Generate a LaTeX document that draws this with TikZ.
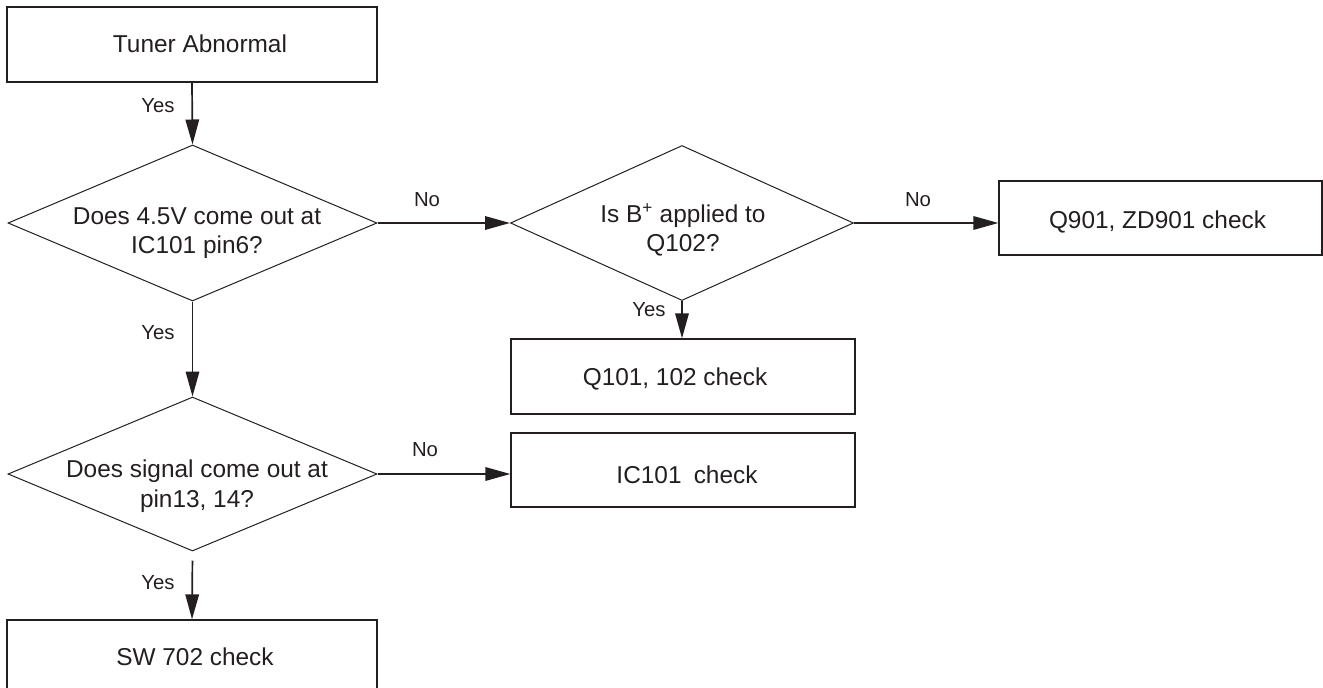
\documentclass[tikz,border=0pt]{standalone}
\usepackage{fontspec}
\setmainfont{Liberation Sans}
\usetikzlibrary{shapes.geometric,arrows.meta}
\definecolor{ink}{RGB}{35,31,32}
\begin{document}
\begin{tikzpicture}[x=1pt,y=-1pt,
  box/.style={draw=ink,line width=1.3pt,rectangle,minimum width=#1,minimum height=75pt,inner sep=0pt},
  box/.default=370pt,
  decision/.style={draw=ink,line width=1pt,diamond,inner sep=0pt},
  txt/.style={text=ink,align=center,inner sep=0pt,font=\fontsize{24.4}{29.5}\selectfont},
  lbl/.style={text=ink,inner sep=0pt,font=\fontsize{20.3}{24}\selectfont},
  flow/.style={draw=ink,line width=1.7pt,-{Triangle[length=25pt,width=13.5pt]}}]
\useasboundingbox (0,0) rectangle (1323,688);

% left column
\node[box] (start) at (192,44.5) {};
\node[txt] (startt) at (200,44) {Tuner Abnormal};

\node[decision,minimum width=369pt,minimum height=156pt] (d1) at (192.5,223) {};
\node[txt] (d1t) at (197,233) {Does 4.5V come out at\\IC101 pin6?};

\node[decision,minimum width=369pt,minimum height=154pt] (d3) at (192.5,474) {};
\node[txt] (d3t) at (197,486) {Does signal come out at\\pin13, 14?};

\node[box] (sw) at (192,657.5) {};
\node[txt] (swt) at (195,656.5) {SW 702 check};

% right part
\node[decision,minimum width=343pt,minimum height=155pt] (dB) at (682,223) {};
\node[txt] (dBt) at (683,230) {Is B\textsuperscript{+} applied to\\Q102?};

\node[box=323pt,minimum height=74pt] (q901) at (1160.5,218) {};
\node[txt] (q901t) at (1157.5,221.5) {Q901, ZD901 check};

\node[box=344pt] (q101) at (683,376.5) {};
\node[txt] (q101t) at (675,378.5) {Q101, 102 check};

\node[box=344pt,minimum height=74pt] (ic) at (683,470) {};
\node[txt] (ict) at (687,475) {IC101\hspace{0.5em}check};

% connectors
\draw[flow] (start.south) -- (d1.north);
\draw[flow] (d1.south) -- (d3.north);
\draw[flow,shorten <=9pt] (d3.south) -- (sw.north);
\draw[flow] (d1.east) -- (dB.west);
\draw[flow] (dB.east) -- (dB.east -| q901.west);
\draw[flow] (dB.south) -- (dB.south |- q101.north);
\draw[flow] (d3.east) -- (d3.east -| ic.west);

% branch labels
\node[lbl] (y1) at (158,106) {Yes};
\node[lbl] (y2) at (158,333) {Yes};
\node[lbl] (y3) at (158,583) {Yes};
\node[lbl] (y4) at (649,310) {Yes};
\node[lbl] (n1) at (427,200) {No};
\node[lbl] (n2) at (918,200) {No};
\node[lbl] (n3) at (425,450) {No};
\end{tikzpicture}
\end{document}
